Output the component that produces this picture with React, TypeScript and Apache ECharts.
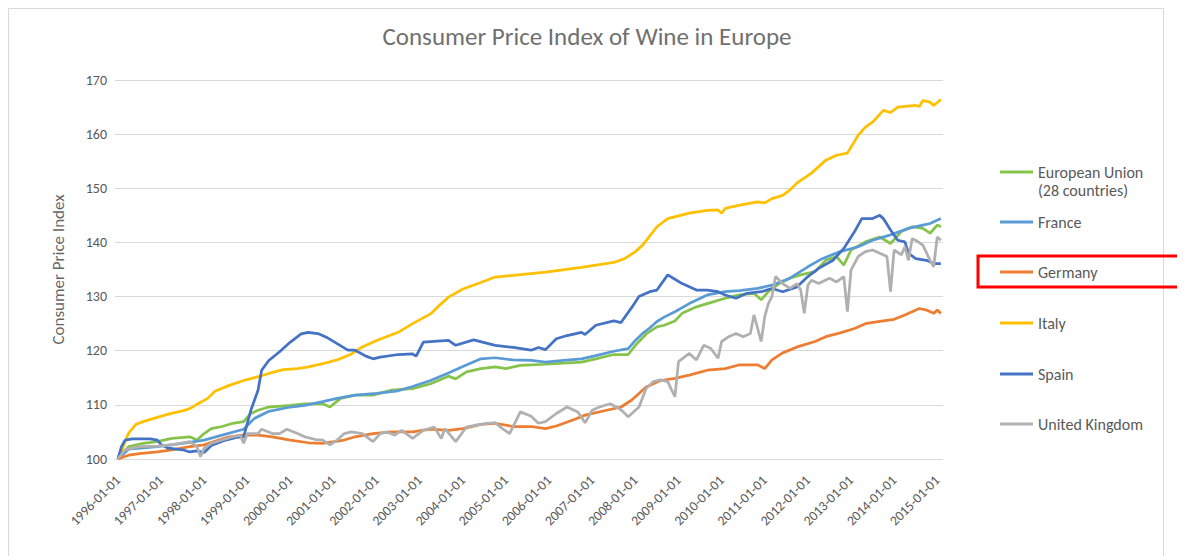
import React, { useEffect, useRef } from "react";
import * as echarts from "echarts";

// x values are months since 1996-01 (0 = 1996-01, 229 = 2015-02)
const YEAR_LABELS = [
  "1996-01-01", "1997-01-01", "1998-01-01", "1999-01-01", "2000-01-01",
  "2001-01-01", "2002-01-01", "2003-01-01", "2004-01-01", "2005-01-01",
  "2006-01-01", "2007-01-01", "2008-01-01", "2009-01-01", "2010-01-01",
  "2011-01-01", "2012-01-01", "2013-01-01", "2014-01-01", "2015-01-01",
];

const SERIES_NAMES = [
  "European Union (28 countries)",
  "France",
  "Germany",
  "Italy",
  "Spain",
  "United Kingdom",
];

const EU: [number, number][] = [
  [0, 100], [3, 102.3], [7, 102.9], [11, 103.2], [15, 103.8], [20, 104.1], [22, 103.5],
  [24, 104.7], [26, 105.6], [29, 106.0], [32, 106.6], [35, 106.9], [37, 108.4], [39, 109.0],
  [42, 109.6], [48, 109.9], [52, 110.2], [57, 110.2], [59, 109.6], [62, 111.2], [66, 111.8],
  [71, 111.8], [76, 112.7], [82, 113.0], [87, 113.9], [92, 115.3], [94, 114.8], [97, 116.1],
  [101, 116.7], [105, 117.0], [108, 116.7], [112, 117.3], [119, 117.5], [124, 117.7],
  [129, 117.9], [133, 118.5], [138, 119.3], [142, 119.3], [144, 121.0], [147, 123.1],
  [150, 124.4], [152, 124.7], [155, 125.5], [157, 126.9], [161, 128.1], [164, 128.7],
  [169, 129.7], [173, 130.3], [177, 130.6], [179, 129.4], [181, 130.9], [184, 132.4],
  [187, 133.4], [190, 134.0], [194, 134.6], [197, 136.7], [200, 137.4], [202, 135.8],
  [204, 138.6], [208, 140.1], [212, 141.0], [215, 139.8], [218, 142.0], [221, 142.9],
  [224, 142.6], [226, 141.7], [228, 143.2], [229, 142.9],
];

const FRANCE: [number, number][] = [
  [0, 100], [3, 101.8], [11, 102.3], [18, 102.9], [24, 103.5], [29, 104.4], [35, 105.5],
  [38, 107.5], [42, 108.8], [48, 109.6], [52, 109.9], [57, 110.6], [61, 111.2], [66, 111.8],
  [72, 112.1], [78, 112.6], [82, 113.4], [87, 114.5], [92, 115.9], [96, 117.1], [101, 118.5],
  [105, 118.7], [110, 118.3], [115, 118.2], [119, 117.9], [124, 118.2], [129, 118.5],
  [133, 119.1], [138, 119.9], [142, 120.4], [144, 121.9], [146, 123.2], [148, 124.2],
  [150, 125.4], [152, 126.2], [155, 127.2], [159, 128.7], [164, 130.3], [169, 130.9],
  [173, 131.1], [178, 131.5], [182, 132.1], [187, 133.4], [192, 135.5], [196, 137.0],
  [201, 138.3], [206, 139.2], [210, 140.4], [215, 141.4], [220, 142.6], [224, 143.2],
  [226, 143.5], [229, 144.4],
];

const GERMANY: [number, number][] = [
  [0, 100], [3, 100.7], [6, 101.0], [11, 101.3], [15, 101.7], [20, 102.3], [24, 102.6],
  [28, 103.5], [31, 104.1], [35, 104.4], [39, 104.4], [43, 104.1], [48, 103.5], [53, 103.0],
  [57, 102.9], [63, 103.5], [66, 104.1], [71, 104.7], [76, 105.0], [82, 105.0], [87, 105.5],
  [92, 105.3], [96, 105.6], [101, 106.4], [105, 106.6], [110, 106.0], [115, 106.0],
  [119, 105.6], [122, 106.1], [127, 107.3], [130, 108.1], [136, 109.0], [140, 109.6],
  [143, 110.9], [147, 113.3], [151, 114.5], [155, 114.9], [159, 115.5], [164, 116.4],
  [169, 116.7], [173, 117.4], [178, 117.4], [180, 116.7], [182, 118.3], [185, 119.6],
  [189, 120.7], [194, 121.7], [197, 122.6], [201, 123.3], [205, 124.1], [208, 125.0],
  [212, 125.4], [216, 125.8], [219, 126.6], [221, 127.2], [223, 127.8], [225, 127.5],
  [227, 126.9], [228, 127.5], [229, 126.9],
];

const ITALY: [number, number][] = [
  [0, 100], [1, 101.5], [2, 103.2], [3, 104.8], [5, 106.4], [7, 106.9], [11, 107.7],
  [14, 108.3], [18, 108.9], [20, 109.3], [22, 110.1], [25, 111.2], [27, 112.5], [31, 113.6],
  [35, 114.5], [39, 115.2], [42, 115.8], [46, 116.5], [50, 116.7], [53, 117.0], [57, 117.6],
  [61, 118.3], [65, 119.4], [68, 120.7], [72, 121.9], [78, 123.4], [82, 125.0], [87, 126.8],
  [90, 128.7], [92, 129.9], [96, 131.4], [101, 132.6], [105, 133.6], [110, 133.9],
  [119, 134.5], [129, 135.4], [138, 136.3], [141, 137.0], [144, 138.3], [146, 139.5],
  [150, 142.9], [153, 144.4], [156, 144.9], [159, 145.4], [164, 145.9], [167, 146.0],
  [168, 145.4], [169, 146.3], [173, 146.9], [178, 147.5], [180, 147.3], [182, 148.1],
  [185, 148.7], [187, 149.7], [189, 151.0], [193, 152.8], [197, 155.2], [200, 156.1],
  [203, 156.5], [204, 157.6], [206, 159.8], [208, 161.3], [210, 162.2], [213, 164.4],
  [215, 164.0], [217, 165.0], [222, 165.3], [223, 165.1], [224, 166.2], [226, 165.9],
  [227, 165.3], [229, 166.4],
];

const SPAIN: [number, number][] = [
  [0, 100], [1, 102.3], [2, 103.5], [4, 103.7], [9, 103.7], [11, 103.5], [12, 102.7],
  [14, 102.0], [18, 101.7], [20, 101.3], [22, 101.5], [24, 101.2], [26, 102.5], [30, 103.5],
  [33, 104.0], [35, 104.1], [37, 109.0], [39, 112.7], [40, 116.4], [42, 118.2], [45, 119.8],
  [48, 121.6], [51, 123.1], [53, 123.4], [56, 123.1], [58, 122.5], [61, 121.3], [64, 120.1],
  [66, 120.1], [69, 119.0], [71, 118.5], [73, 118.8], [78, 119.3], [82, 119.4], [83, 119.0],
  [85, 121.6], [92, 121.9], [94, 121.0], [99, 122.0], [105, 121.0], [110, 120.6],
  [115, 120.1], [117, 120.6], [119, 120.2], [122, 122.2], [125, 122.8], [129, 123.4],
  [130, 123.0], [133, 124.7], [138, 125.5], [140, 125.2], [143, 128.0], [145, 130.0],
  [148, 130.9], [150, 131.2], [153, 134.0], [155, 133.2], [157, 132.4], [161, 131.2],
  [164, 131.2], [167, 130.9], [169, 130.3], [172, 129.7], [175, 130.6], [179, 130.9],
  [182, 131.5], [185, 130.9], [189, 131.8], [192, 133.7], [195, 135.2], [199, 136.7],
  [202, 138.9], [205, 142.0], [207, 144.4], [210, 144.4], [212, 145.0], [213, 144.4],
  [215, 142.3], [217, 140.4], [219, 140.1], [220, 138.0], [222, 137.0], [225, 136.7],
  [227, 136.1], [229, 136.1],
];

const UK: [number, number][] = [
  [0, 100], [2, 101.7], [6, 102.3], [11, 102.4], [15, 102.6], [20, 103.2], [22, 102.3],
  [23, 100.4], [24, 102.0], [26, 102.9], [29, 103.5], [32, 104.1], [34, 104.4], [35, 102.9],
  [36, 104.7], [39, 104.7], [40, 105.5], [43, 104.7], [45, 104.7], [47, 105.5], [50, 104.7],
  [52, 104.1], [55, 103.6], [57, 103.5], [59, 102.6], [61, 103.5], [63, 104.7], [65, 105.0],
  [68, 104.7], [71, 103.2], [73, 104.7], [75, 105.0], [77, 104.4], [79, 105.3], [82, 103.8],
  [85, 105.3], [88, 105.9], [90, 103.8], [91, 105.6], [94, 103.2], [97, 105.9], [100, 106.3],
  [103, 106.6], [105, 106.7], [107, 105.6], [109, 104.7], [112, 108.7], [115, 107.9],
  [117, 106.6], [119, 106.9], [122, 108.4], [125, 109.6], [128, 108.7], [130, 106.7],
  [132, 109.0], [134, 109.6], [137, 110.2], [140, 109.1], [142, 107.8], [145, 109.6],
  [147, 113.0], [149, 114.3], [151, 114.6], [153, 114.3], [155, 111.5], [156, 118.0],
  [159, 119.5], [161, 118.3], [163, 121.0], [165, 120.4], [167, 118.6], [168, 121.7],
  [170, 122.6], [172, 123.2], [174, 122.6], [176, 123.2], [177, 126.6], [179, 121.7],
  [180, 126.3], [181, 128.7], [182, 130.0], [183, 133.7], [185, 132.4], [187, 131.5],
  [189, 132.4], [190, 131.2], [191, 126.9], [192, 132.1], [193, 133.0], [195, 132.4],
  [198, 133.4], [200, 132.7], [202, 133.7], [203, 127.2], [204, 134.9], [206, 137.4],
  [208, 138.3], [210, 138.6], [212, 138.0], [214, 137.4], [215, 130.9], [216, 138.6],
  [218, 137.7], [219, 139.2], [220, 136.7], [221, 140.7], [222, 140.4], [224, 139.5],
  [226, 136.7], [227, 135.5], [228, 141.0], [229, 140.4],
];

const SERIES_DATA = [EU, FRANCE, GERMANY, ITALY, SPAIN, UK];
const COLORS = ["#86C34A", "#5B9BD5", "#ED7D31", "#FFC000", "#4472C4", "#B0B0B0"];

const FONT = "Carlito, Lato, sans-serif";
const TEXT = "#595959";

export default function App() {
  const ref = useRef<HTMLDivElement>(null);

  useEffect(() => {
    if (!ref.current) return;
    const chart = echarts.init(ref.current, undefined, { renderer: "svg" });

    const tickValues = YEAR_LABELS.map((_, i) => i * 12);
    const legendCenters = [164, 214, 264, 315, 366, 416];

    const legends = SERIES_NAMES.map((name, i) => {
      const isEU = i === 0;
      return {
        data: [name],
        orient: "vertical",
        left: 992,
        top: isEU ? legendCenters[i] - 27 : legendCenters[i] - 9,
        padding: 0,
        icon: "rect",
        itemWidth: 33,
        itemHeight: 3,
        selectedMode: false,
        formatter: isEU ? () => "\nEuropean Union\n(28 countries)" : undefined,
        textStyle: {
          color: TEXT,
          fontSize: 16,
          fontFamily: FONT,
          lineHeight: 18,
        },
      };
    });

    const option: any = {
      animation: false,
      title: {
        text: "Consumer Price Index of Wine in Europe",
        left: 579,
        top: 16,
        textAlign: "center",
        padding: 0,
        textStyle: {
          color: "#707070",
          fontSize: 25,
          fontWeight: 300,
          fontFamily: FONT,
        },
      },
      legend: legends,
      grid: { left: 107, right: 242, top: 72, bottom: 97, containLabel: false },
      xAxis: {
        type: "value",
        min: -0.8,
        max: 229.6,
        splitLine: { show: false },
        axisTick: { show: false },
        axisLine: { show: false },
        axisLabel: {
          customValues: tickValues,
          formatter: (v: number) => YEAR_LABELS[Math.round(v / 12)] ?? "",
          rotate: 45,
          margin: 19,
          color: TEXT,
          fontSize: 13.7,
          fontFamily: FONT,
        },
      },
      yAxis: {
        type: "value",
        min: 100,
        max: 170,
        interval: 10,
        name: "Consumer Price Index",
        nameLocation: "middle",
        nameGap: 48,
        nameTextStyle: { color: "#666666", fontSize: 17, fontFamily: FONT },
        axisLine: { show: false },
        axisTick: { show: false },
        axisLabel: { color: TEXT, fontSize: 14, fontFamily: FONT, margin: 8 },
        splitLine: { lineStyle: { color: "#D9D9D9", width: 1 } },
      },
      series: SERIES_NAMES.map((name, i) => ({
        name,
        type: "line",
        data: SERIES_DATA[i],
        showSymbol: false,
        symbol: "none",
        silent: true,
        color: COLORS[i],
        lineStyle: { color: COLORS[i], width: 2.75 },
      })),
      graphic: [
        {
          type: "rect",
          silent: true,
          z: -1,
          shape: { x: 0.5, y: 0.5, width: 1155, height: 620 },
          style: { fill: "none", stroke: "#D9D9D9", lineWidth: 1 },
        },
        {
          type: "rect",
          silent: true,
          z: 100,
          shape: { x: 970, y: 248, width: 240, height: 31 },
          style: { fill: "none", stroke: "#FF0000", lineWidth: 3 },
        },
      ],
    };

    chart.setOption(option);
    return () => chart.dispose();
  }, []);

  return <div ref={ref} style={{ width: 1177, height: 548 }} />;
}
